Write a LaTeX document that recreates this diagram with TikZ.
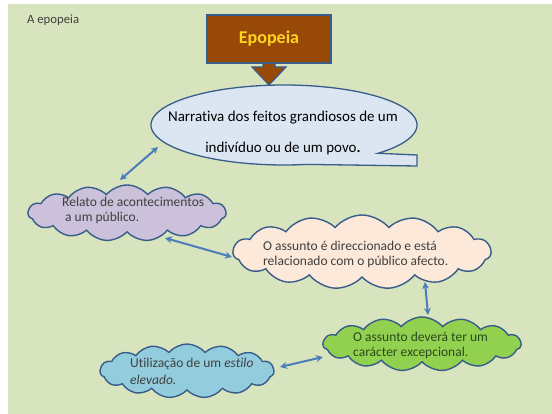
\documentclass[tikz,border=0pt]{standalone}
\usepackage{fontspec}
\setmainfont{Carlito}[RawFeature={-liga;-clig;-calt;-dlig}]
\usetikzlibrary{shapes.symbols,arrows.meta}
\definecolor{bg}{HTML}{D7E4BD}
\definecolor{brownbox}{HTML}{984807}
\definecolor{outl}{HTML}{385D8A}
\definecolor{callfill}{HTML}{DCE6F2}
\definecolor{purp}{HTML}{CCC1DA}
\definecolor{peach}{HTML}{FDE9D9}
\definecolor{grn}{HTML}{92D050}
\definecolor{blu}{HTML}{93CDDD}
\definecolor{arr}{HTML}{4A7EBB}
\definecolor{txtgray}{HTML}{3F3F3F}
\definecolor{txtgreen}{HTML}{2A4A1C}
\definecolor{eyellow}{HTML}{FFD320}
\tikzset{
  cloudbox/.style={cloud, cloud puffs=15, cloud puff arc=100, cloud ignores aspect,
    draw=outl, line width=1.4pt, inner sep=0pt},
  cloudtxt/.style={anchor=west, inner sep=0pt, font=\fontsize{13.5}{15}\selectfont, text=txtgray},
  link/.style={draw=arr, line width=2pt, {Stealth[length=7pt,width=7pt]}-{Stealth[length=7pt,width=7pt]}}
}
\begin{document}
\begin{tikzpicture}[x=1pt,y=-1pt]
\useasboundingbox (0,0) rectangle (552,414);
\fill[white] (0,0) rectangle (552,414);
\fill[bg] (8,4) rectangle (552,414);

\node[anchor=west, inner sep=0pt, font=\fontsize{12.7}{14}\selectfont, text=txtgray] (title) at (27,20) {A epopeia};

% down arrow
\filldraw[fill=brownbox, draw=outl, line width=1.2pt]
  (263,60) -- (263,67) -- (252,67) -- (269,85) -- (286,67) -- (275,67) -- (275,60) -- cycle;
\node[draw=outl, line width=1.4pt, fill=brownbox, minimum width=124pt, minimum height=48pt,
  inner sep=0pt, text=eyellow, font=\fontsize{18}{20}\selectfont\bfseries] (epo) at (269,39) {Epopeia};

% ellipse callout
\filldraw[fill=callfill, draw=outl, line width=1.3pt]
  plot[domain=80:405, samples=120] ({284+133*cos(\x)},{125+40*sin(\x)})
  -- (417,155) -- (417,166) -- cycle;
\node[inner sep=0pt, font=\fontsize{15}{17}\selectfont] (narr1) at (283,118) {Narrativa dos feitos grandiosos de um};
\node[inner sep=0pt, font=\fontsize{15}{17}\selectfont] (narr2) at (283,149) {indivíduo ou de um povo\textbf{.}};

% clouds
\node[cloudbox, fill=purp, minimum width=198pt, minimum height=56pt] (c1) at (127,213) {};
\node[cloudtxt] (c1a) at (62,202) {Relato de acontecimentos};
\node[cloudtxt] (c1b) at (65,218) {a um público.};

\node[cloudbox, fill=peach, minimum width=258pt, minimum height=74pt] (c2) at (362,252) {};
\node[cloudtxt] (c2a) at (263,246) {O assunto é direccionado e está};
\node[cloudtxt] (c2b) at (263,262) {relacionado com o público afecto.};

\node[cloudbox, fill=grn, minimum width=198pt, minimum height=54pt] (c3) at (422,344) {};
\node[cloudtxt, text=txtgreen] (c3a) at (353,337) {O assunto deverá ter um};
\node[cloudtxt, text=txtgreen] (c3b) at (353,353) {carácter excepcional.};

\node[cloudbox, fill=blu, minimum width=174pt, minimum height=54pt] (c4) at (187,371) {};
\node[cloudtxt] (c4a) at (130,364) {Utilização de um \textit{estilo}};
\node[cloudtxt] (c4b) at (130,380) {\textit{elevado.}};

% connectors
\coordinate (a1s) at (120,180);
\coordinate (a1e) at (158,147);
\coordinate (a2s) at (165,238);
\coordinate (a2e) at (232,257);
\coordinate (a3s) at (425,282);
\coordinate (a3e) at (428,315);
\coordinate (a4s) at (280,367);
\coordinate (a4e) at (323,357);
\draw[link] (a1s) -- (a1e);
\draw[link] (a2s) -- (a2e);
\draw[link] (a3s) -- (a3e);
\draw[link] (a4s) -- (a4e);
\end{tikzpicture}
\end{document}
